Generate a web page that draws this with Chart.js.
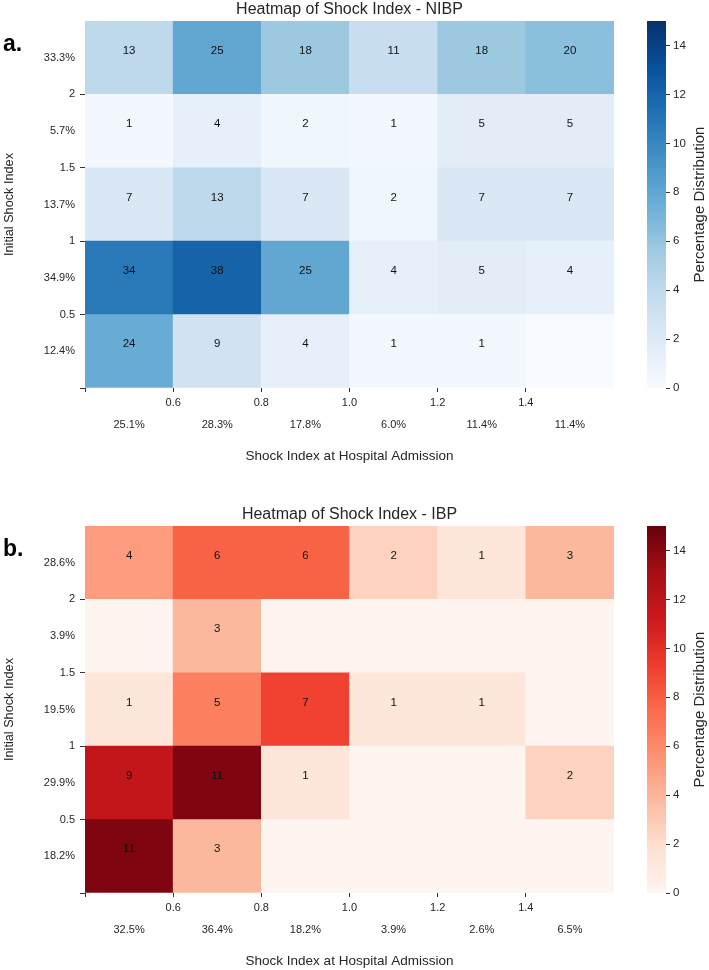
<!DOCTYPE html>
<html>
<head>
<meta charset="utf-8">
<script src="https://cdn.jsdelivr.net/npm/chart.js@4.4.1/dist/chart.umd.min.js"></script>
<style>
  html, body { margin: 0; padding: 0; background: #fff; }
  #wrap { position: relative; width: 709px; height: 970px; overflow: hidden; background: #fff; }
  canvas { position: absolute; display: block; }
  .panel { position: absolute; left: 3px; font: bold 23px 'Liberation Sans', Arial, sans-serif; line-height: 23px; color: #000; }
</style>
</head>
<body>
<div id="wrap">
  <canvas id="heatA" width="640" height="470" style="left:0;top:0;width:640px;height:470px"></canvas>
  <canvas id="cbA" width="69" height="470" style="left:640px;top:0;width:69px;height:470px"></canvas>
  <canvas id="heatB" width="640" height="465" style="left:0;top:505px;width:640px;height:465px"></canvas>
  <canvas id="cbB" width="69" height="465" style="left:640px;top:505px;width:69px;height:465px"></canvas>
  <div class="panel" style="top:32px">a.</div>
  <div class="panel" style="top:537px">b.</div>
</div>
<script>
// ---------------- data ----------------
const ADMISSION_EDGES = ['0.6', '0.8', '1.0', '1.2', '1.4'];   // x bin edges (left to right)
const INITIAL_EDGES = ['0.5', '1', '1.5', '2'];                 // y bin edges (bottom to top)
const COLORBAR_TICKS = [0, 2, 4, 6, 8, 10, 12, 14];
const COLOR_MAX = 15;

// NIBP counts, rows from top (>=2) to bottom (<0.5), columns left to right
const NIBP_COUNTS = [
  [13, 25, 18, 11, 18, 20],
  [1, 4, 2, 1, 5, 5],
  [7, 13, 7, 2, 7, 7],
  [34, 38, 25, 4, 5, 4],
  [24, 9, 4, 1, 1, 0]
];
const NIBP_ROW_PCT = ['33.3%', '5.7%', '13.7%', '34.9%', '12.4%'];
const NIBP_COL_PCT = ['25.1%', '28.3%', '17.8%', '6.0%', '11.4%', '11.4%'];

// IBP counts, rows from top to bottom
const IBP_COUNTS = [
  [4, 6, 6, 2, 1, 3],
  [0, 3, 0, 0, 0, 0],
  [1, 5, 7, 1, 1, 0],
  [9, 11, 1, 0, 0, 2],
  [11, 3, 0, 0, 0, 0]
];
const IBP_ROW_PCT = ['28.6%', '3.9%', '19.5%', '29.9%', '18.2%'];
const IBP_COL_PCT = ['32.5%', '36.4%', '18.2%', '3.9%', '2.6%', '6.5%'];

const BLUES = ['#f7fbff', '#deebf7', '#c6dbef', '#9ecae1', '#6baed6', '#4292c6', '#2171b5', '#08519c', '#08306b'];
const REDS = ['#fff5f0', '#fee0d2', '#fcbba1', '#fc9272', '#fb6a4a', '#ef3b2c', '#cb181d', '#a50f15', '#67000d'];

// ---------------- helpers ----------------
const FONT = "'Liberation Sans', Arial, Helvetica, sans-serif";
const TXT = '#262626';
const TICK = '#333333';
Chart.defaults.font.family = FONT;
Chart.defaults.color = TXT;

function hexToRgb(h) { return [1, 3, 5].map(i => parseInt(h.slice(i, i + 2), 16)); }
function cmap(stops, t) {
  t = Math.max(0, Math.min(1, t));
  const p = t * (stops.length - 1);
  const i = Math.min(Math.floor(p), stops.length - 2);
  const f = p - i;
  const a = hexToRgb(stops[i]), b = hexToRgb(stops[i + 1]);
  return 'rgb(' + a.map((v, k) => Math.round(v + (b[k] - v) * f)).join(',') + ')';
}

const annotate = {
  id: 'annotate',
  afterDatasetsDraw(chart, args, opts) {
    const ctx = chart.ctx;
    ctx.save();
    ctx.font = opts.size + 'px ' + FONT;
    ctx.fillStyle = opts.color;
    ctx.textAlign = 'center';
    ctx.textBaseline = 'middle';
    chart.data.datasets.forEach((ds, di) => {
      const meta = chart.getDatasetMeta(di);
      meta.data.forEach((bar, j) => {
        const n = ds.counts[j];
        if (!n) return;
        const p = bar.getProps(['x', 'y', 'base'], true);
        ctx.fillText(String(n), p.x, (p.y + p.base) / 2 + opts.dy);
      });
    });
    ctx.restore();
  }
};

const cbTitle = {
  id: 'cbTitle',
  afterDraw(chart, args, o) {
    const { ctx, chartArea } = chart;
    ctx.save();
    ctx.font = o.size + 'px ' + FONT;
    ctx.fillStyle = o.color;
    ctx.textAlign = 'center';
    ctx.textBaseline = 'middle';
    ctx.translate(o.x, (chartArea.top + chartArea.bottom) / 2);
    ctx.rotate(-Math.PI / 2);
    ctx.fillText(o.text, 0, 0);
    ctx.restore();
  }
};

function buildHeatmap(id, title, counts, rowPct, colPct, stops, padBottom) {
  const total = counts.flat().reduce((a, b) => a + b, 0);
  const rowsUp = counts.slice().reverse();
  const rowPctUp = rowPct.slice().reverse();
  const nRows = rowsUp.length, nCols = colPct.length;
  const datasets = rowsUp.map((row, r) => ({
    data: row.map(() => [r, r + 1]),
    counts: row,
    backgroundColor: row.map(n => cmap(stops, (n / total * 100) / COLOR_MAX)),
    borderWidth: 0,
    barPercentage: 1,
    categoryPercentage: 1,
    grouped: false,
    xAxisID: 'x',
    yAxisID: 'y'
  }));
  new Chart(document.getElementById(id), {
    type: 'bar',
    data: { labels: colPct, datasets },
    plugins: [annotate],
    options: {
      responsive: false,
      animation: false,
      events: [],
      layout: { padding: { left: 0, right: 26, top: 0, bottom: padBottom } },
      plugins: {
        legend: { display: false },
        tooltip: { enabled: false },
        title: {
          display: true, text: title, fullSize: false, color: TXT,
          font: { size: 16, weight: 'normal', lineHeight: 1 },
          padding: { top: 1.5, bottom: 3.5 }
        },
        annotate: { size: 11.5, color: '#111', dy: -7 }
      },
      scales: {
        x: { type: 'category', display: false, offset: true },
        xe: {
          type: 'linear', position: 'bottom', min: 0, max: nCols, offset: false,
          afterBuildTicks: s => {
            const t = [];
            for (let k = 0; k <= nCols; k++) { t.push({ value: k }); if (k < nCols) t.push({ value: k + 0.5 }); }
            s.ticks = t;
          },
          afterFit: s => { s.height = 76; },
          ticks: {
            autoSkip: false, maxRotation: 0, padding: 0, color: TXT,
            font: { size: 11, lineHeight: '22px' },
            callback: v => Number.isInteger(v)
              ? ((v >= 1 && v <= ADMISSION_EDGES.length) ? ADMISSION_EDGES[v - 1] : '')
              : ['', colPct[Math.floor(v)]]
          },
          grid: {
            offset: false, drawOnChartArea: false, drawTicks: true, tickLength: 4, tickWidth: 1,
            tickColor: c => (c.tick && Number.isInteger(c.tick.value) && c.tick.value < nCols) ? TICK : 'rgba(0,0,0,0)'
          },
          border: { display: false },
          title: { display: true, text: 'Shock Index at Hospital Admission', color: TXT, font: { size: 13.5 }, padding: { top: 0, bottom: 0 } }
        },
        y: {
          type: 'linear', position: 'left', min: 0, max: nRows,
          afterBuildTicks: s => {
            const t = [];
            for (let k = 0; k <= nRows; k++) { t.push({ value: k }); if (k < nRows) t.push({ value: k + 0.5 }); }
            s.ticks = t;
          },
          afterFit: s => { s.width = 85; },
          ticks: {
            autoSkip: false, padding: 5, color: TXT, font: { size: 11 },
            callback: v => Number.isInteger(v)
              ? ((v >= 1 && v <= INITIAL_EDGES.length) ? INITIAL_EDGES[v - 1] : '')
              : rowPctUp[Math.floor(v)]
          },
          grid: {
            drawOnChartArea: false, drawTicks: true, tickLength: 5, tickWidth: 1,
            tickColor: c => (c.tick && Number.isInteger(c.tick.value) && c.tick.value < nRows) ? TICK : 'rgba(0,0,0,0)'
          },
          border: { display: false },
          title: { display: true, text: 'Initial Shock Index', color: TXT, font: { size: 12.7 }, padding: { top: 2, bottom: 0 } }
        }
      }
    }
  });
}

function buildColorbar(id, stops, padBottom) {
  new Chart(document.getElementById(id), {
    type: 'bar',
    data: {
      labels: [''],
      datasets: [{
        data: [COLOR_MAX],
        borderWidth: 0, barPercentage: 1, categoryPercentage: 1,
        backgroundColor: c => {
          const ca = c.chart.chartArea;
          if (!ca) return stops[0];
          const g = c.chart.ctx.createLinearGradient(0, ca.bottom, 0, ca.top);
          stops.forEach((s, i) => g.addColorStop(i / (stops.length - 1), s));
          return g;
        }
      }]
    },
    plugins: [cbTitle],
    options: {
      responsive: false,
      animation: false,
      events: [],
      layout: { padding: { left: 7, right: 0, top: 21, bottom: padBottom } },
      plugins: {
        legend: { display: false },
        tooltip: { enabled: false },
        cbTitle: { text: 'Percentage Distribution', size: 15, color: TXT, x: 60 }
      },
      scales: {
        x: { display: false },
        y: {
          position: 'right', min: 0, max: COLOR_MAX,
          afterBuildTicks: s => { s.ticks = COLORBAR_TICKS.map(v => ({ value: v })); },
          afterFit: s => { s.width = 43; },
          ticks: { padding: 3, color: TXT, font: { size: 11.5 } },
          grid: { drawOnChartArea: false, drawTicks: true, tickLength: 4, tickColor: TICK },
          border: { display: false }
        }
      }
    }
  });
}

buildHeatmap('heatA', 'Heatmap of Shock Index - NIBP', NIBP_COUNTS, NIBP_ROW_PCT, NIBP_COL_PCT, BLUES, 6);
buildColorbar('cbA', BLUES, 82);
buildHeatmap('heatB', 'Heatmap of Shock Index - IBP', IBP_COUNTS, IBP_ROW_PCT, IBP_COL_PCT, REDS, 1);
buildColorbar('cbB', REDS, 77);
</script>
</body>
</html>
